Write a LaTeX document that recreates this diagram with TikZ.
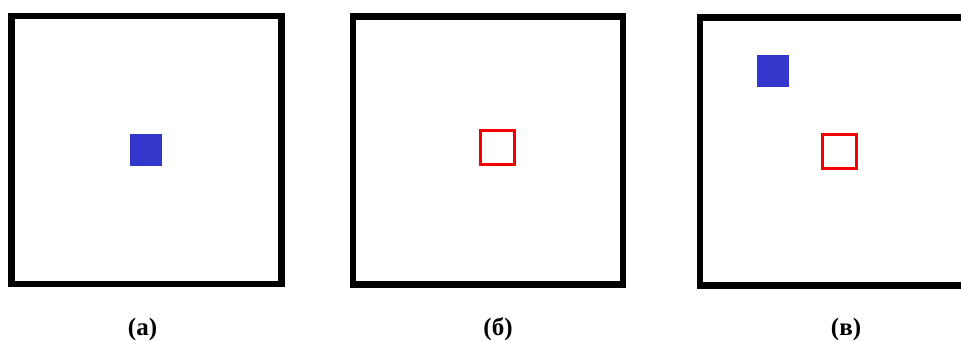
\documentclass[tikz,border=0pt]{standalone}
\usepackage{fontspec}
\setmainfont{Liberation Serif}
\definecolor{tblue}{RGB}{51,55,204}
\definecolor{tred}{RGB}{245,0,0}
\begin{document}
\begin{tikzpicture}[x=1pt,y=-1pt,
    frame/.style={draw=black,line width=6.5pt,inner sep=0pt,
      minimum width=270,minimum height=268},
    target/.style={fill=tblue,inner sep=0pt,minimum size=32},
    probe/.style={draw=tred,line width=3pt,inner sep=0pt,minimum size=34},
    sublabel/.style={font=\bfseries\fontsize{25}{29}\selectfont,anchor=base}]
  \clip (0,0) rectangle (961,340);
  % frames and labels
  \foreach \n/\x/\y/\lx/\t in {a/146.7/150/142.5/(а), b/488.2/150.5/498/(б),
      c/835/151.4/846/(в)}{
    \node[frame] (frame\n) at (\x,\y) {};
    \node[sublabel] (lbl\n) at (\lx,335) {\t};
  }
  % (а)
  \node[target] (blueA) at (146.3,150.3) {};
  % (б)
  \node[probe] (redB) at (497.5,147.5) {};
  % (в)
  \node[target] (blueC) at (772.8,71.2) {};
  \node[probe] (redC) at (839.5,151.3) {};
\end{tikzpicture}
\end{document}
